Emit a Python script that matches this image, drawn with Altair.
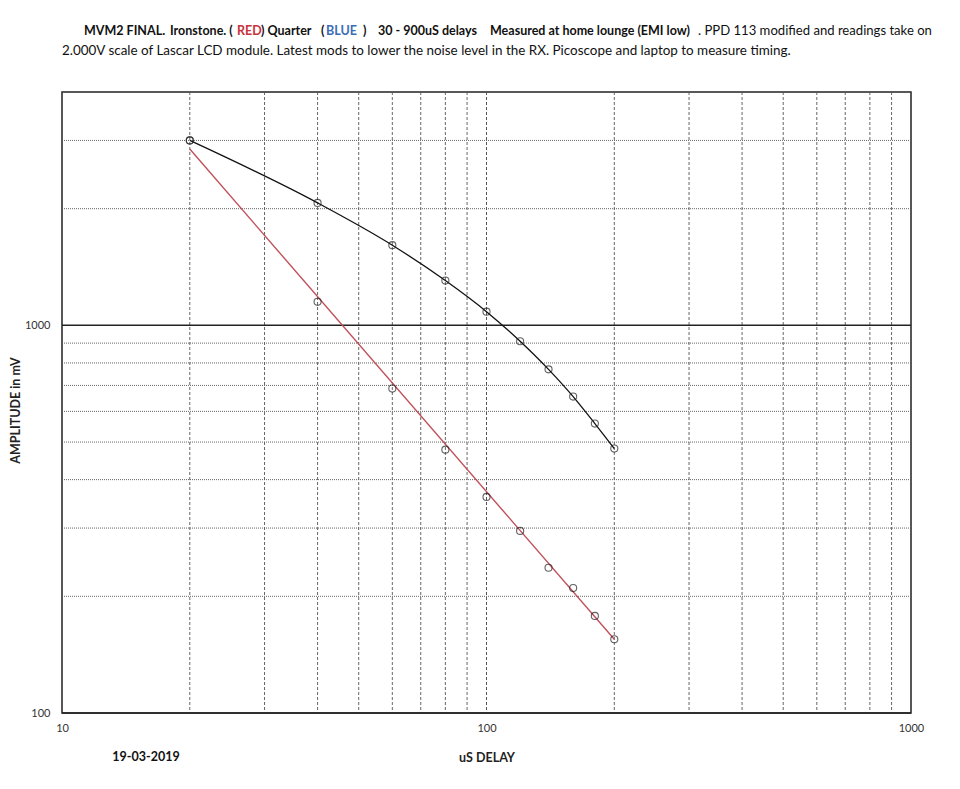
import altair as alt
import pandas as pd

# ---- data ----
delay_us = [20, 40, 60, 80, 100, 120, 140, 160, 180, 200]
quarter_mv = [3000, 2070, 1610, 1305, 1085, 910, 770, 655, 558, 481]
ironstone_mv = [3000, 1150, 687, 478, 361, 295, 237, 210, 178, 155]
ironstone_fit_x = [20, 200]
ironstone_fit_y = [2850, 155]

x_major = [10, 100, 1000]
x_minor = [20, 30, 40, 50, 60, 70, 80, 90, 200, 300, 400, 500, 600, 700, 800, 900]
y_major = [100, 1000]
y_minor = [200, 300, 400, 500, 600, 700, 800, 900, 2000, 3000]

FONT = "Lato"
W, H = 849, 621

xs = alt.Scale(type="log", domain=[10, 1000])
ys = alt.Scale(type="log", domain=[100, 4000])

xaxis = alt.Axis(values=x_major, format="d", grid=False, ticks=False, domain=False,
                 labelFontSize=11, labelColor="#333", labelPadding=9, labelFont=FONT,
                 labelFlush=False,
                 title="uS DELAY", titleFontSize=12.5, titleFont=FONT, titleFontWeight="bold",
                 titlePadding=18, titleColor="#222")
yaxis = alt.Axis(values=y_major, format="d", grid=False, ticks=False, domain=False,
                 labelFontSize=11, labelColor="#333", labelPadding=12, labelFont=FONT,
                 labelFlush=False,
                 title="AMPLITUDE in mV", titleFontSize=12.5, titleFont=FONT, titleFontWeight="bold",
                 titlePadding=2, titleColor="#222", titleY=318)

vminor = alt.Chart(pd.DataFrame({"x": x_minor})).mark_rule(
    color="#555", strokeWidth=0.9, strokeDash=[3, 2]).encode(x=alt.X("x:Q", scale=xs, axis=xaxis))
vmajor = alt.Chart(pd.DataFrame({"x": x_major})).mark_rule(
    color="#555", strokeWidth=1.0, strokeDash=[3, 2]).encode(x=alt.X("x:Q", scale=xs))
hminor = alt.Chart(pd.DataFrame({"y": y_minor})).mark_rule(
    color="#555", strokeWidth=0.9, strokeDash=[1, 1]).encode(y=alt.Y("y:Q", scale=ys, axis=yaxis))
hmajor = alt.Chart(pd.DataFrame({"y": y_major})).mark_rule(
    color="#222", strokeWidth=1.5).encode(y=alt.Y("y:Q", scale=ys))

pts = pd.DataFrame({"delay": delay_us * 2,
                    "mv": quarter_mv + ironstone_mv,
                    "series": ["Quarter"] * len(delay_us) + ["Ironstone"] * len(delay_us)})

quarter_line = alt.Chart(pd.DataFrame({"delay": delay_us, "mv": quarter_mv})).mark_line(
    color="#111", strokeWidth=1.3, interpolate="monotone").encode(
    x=alt.X("delay:Q", scale=xs), y=alt.Y("mv:Q", scale=ys))
iron_line = alt.Chart(pd.DataFrame({"delay": ironstone_fit_x, "mv": ironstone_fit_y})).mark_line(
    color="#c0505a", strokeWidth=1.4).encode(
    x=alt.X("delay:Q", scale=xs), y=alt.Y("mv:Q", scale=ys))
points = alt.Chart(pts).mark_point(shape="circle", filled=False, color="#222",
                                   size=50, strokeWidth=1.1).encode(
    x=alt.X("delay:Q", scale=xs), y=alt.Y("mv:Q", scale=ys))

# ---- title text segments (text, x px, y px, colour, bold, size) ----
segments = [
    ("MVM2 FINAL.", 22, -61, "#111", True, 12.5),
    ("Ironstone. (", 108, -61, "#111", True, 12.5),
    ("RED", 175, -61, "#c8323c", True, 12.5),
    (") Quarter", 199, -61, "#111", True, 12.5),
    ("(", 259, -61, "#111", True, 12.5),
    ("BLUE", 264, -61, "#3a6db5", True, 12.5),
    (")", 301, -61, "#111", True, 12.5),
    ("30 - 900uS delays", 316, -61, "#111", True, 12.5),
    ("Measured at home lounge (EMI low)", 428, -61, "#111", True, 12.5),
    (". PPD 113 modified and readings take on", 636, -61, "#111", False, 13.1),
    ("2.000V scale of Lascar LCD module. Latest mods to lower the noise level in the RX. "
     "Picoscope and laptop to measure timing.", 0, -41, "#111", False, 13.45),
    ("19-03-2019", 84, 665, "#111", True, 12.5),
]
text_layers = []
for t, x, y, c, b, fs in segments:
    text_layers.append(
        alt.Chart(pd.DataFrame({"t": [t]})).mark_text(
            align="center" if t == "19-03-2019" else "left", baseline="middle",
            font=FONT, fontSize=fs, fontWeight="bold" if b else "normal", color=c
        ).encode(x=alt.value(x), y=alt.value(y), text="t:N")
    )

chart = alt.layer(vminor, vmajor, hminor, hmajor, iron_line, quarter_line, points,
                  *text_layers).properties(
    width=W, height=H,
    autosize=alt.AutoSizeParams(type="none"),
    padding={"left": 54, "top": 84, "right": 40, "bottom": 66},
    background="white",
).configure_view(stroke="#222", strokeWidth=1.5)

chart.save("out.html", embed_options={"renderer": "svg", "actions": False})
